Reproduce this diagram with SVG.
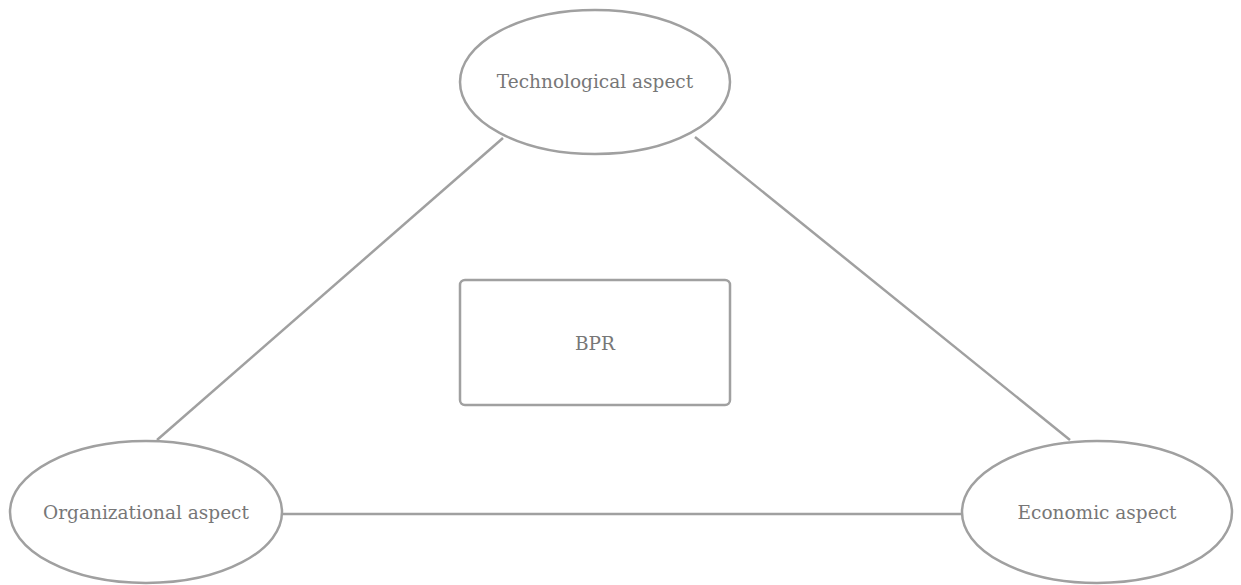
<svg xmlns="http://www.w3.org/2000/svg" width="1241" height="585" viewBox="0 0 1241 585">
  <style>
    .shape { fill: #ffffff; stroke: #a0a0a0; stroke-width: 2.5; }
    .link { stroke: #a0a0a0; stroke-width: 2.5; fill: none; }
    .label { font-family: "DejaVu Serif", "Liberation Serif", serif; font-size: 18.5px; fill: #777777; text-anchor: middle; dominant-baseline: central; }
  </style>
  <rect width="1241" height="585" fill="#ffffff"/>
  <g id="connectors">
    <line class="link" x1="503" y1="138" x2="157" y2="440"/>
    <line class="link" x1="695" y1="137" x2="1070" y2="440"/>
    <line class="link" x1="282" y1="514" x2="962" y2="514"/>
  </g>
  <g id="technological">
    <ellipse class="shape" cx="595" cy="82" rx="135" ry="72"/>
    <text class="label" x="595" y="81">Technological aspect</text>
  </g>
  <g id="bpr">
    <rect class="shape" x="460" y="280" width="270" height="125" rx="5"/>
    <text class="label" x="595" y="343">BPR</text>
  </g>
  <g id="organizational">
    <ellipse class="shape" cx="146" cy="512" rx="136" ry="71"/>
    <text class="label" x="146" y="512">Organizational aspect</text>
  </g>
  <g id="economic">
    <ellipse class="shape" cx="1097" cy="512" rx="135" ry="71"/>
    <text class="label" x="1097" y="512">Economic aspect</text>
  </g>
</svg>
